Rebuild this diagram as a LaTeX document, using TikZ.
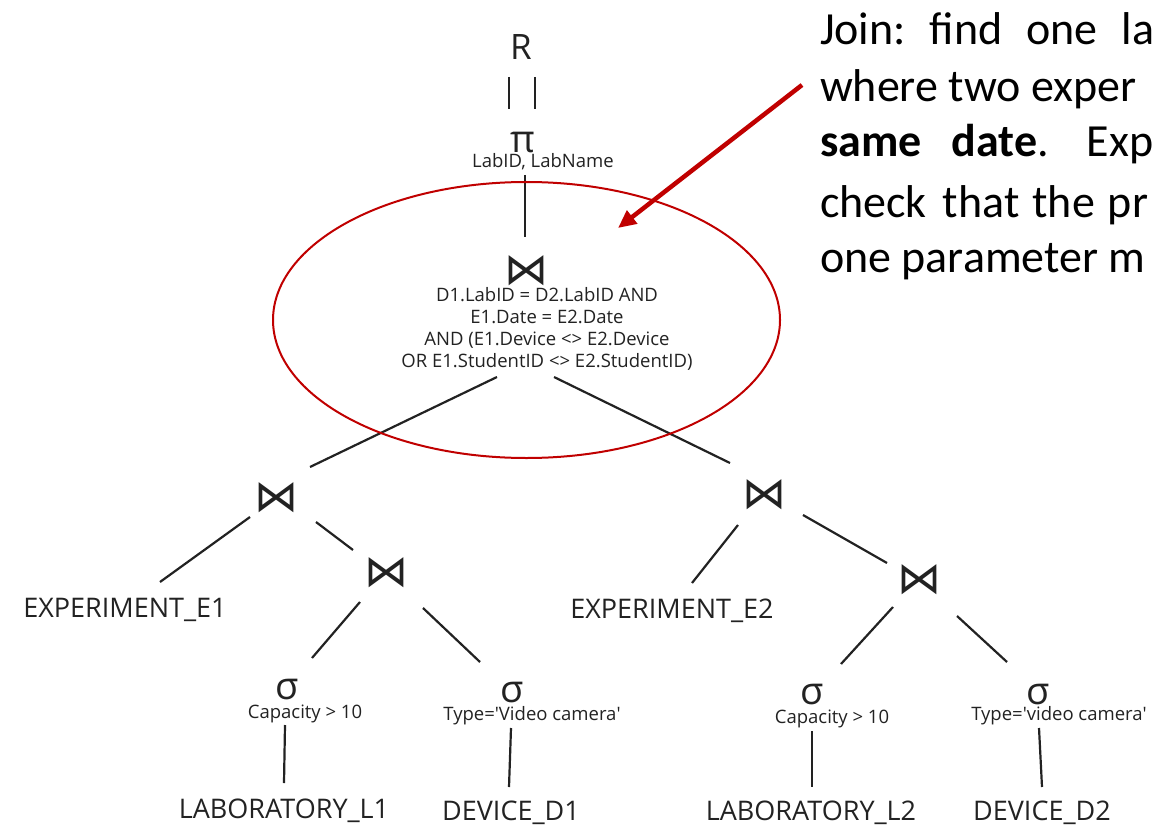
\documentclass[tikz,border=0pt]{standalone}
\usepackage{fontspec}
\setmainfont{Open Sans}
\newfontfamily\notefont{Carlito}
\newfontfamily\symfont{DejaVu Sans}
\usetikzlibrary{arrows.meta,shapes.geometric}
\definecolor{ink}{HTML}{222222}
\definecolor{hl}{HTML}{C00000}

\begin{document}
\begin{tikzpicture}[x=1pt,y=-1pt,
  every node/.style={inner sep=0pt, outer sep=0pt, text=ink},
  big/.style={font=\fontsize{27}{30}\selectfont, anchor=base},
  small/.style={font=\fontsize{18.5}{22}\selectfont, align=center, anchor=base},
  greek/.style={font=\fontsize{38}{38}\selectfont},
  joinop/.style={font=\symfont\fontsize{44}{44}\selectfont},
  link/.style={draw=ink, line width=2.2pt},
  note/.style={font=\notefont\fontsize{46}{56}\selectfont, text=black, anchor=base west},
  ring/.style={draw=hl, line width=2pt, ellipse},
]
\path[use as bounding box, clip] (0,0) rectangle (1153,829);

% ---- result and projection
\node[font=\fontsize{35}{35}\selectfont, anchor=base] (R) at (521,60) {R};
\node[greek] (pi) at (523,142.5) {π};
\node[small] (piarg) at (543,168) {LabID, LabName};

% ---- top join with its condition
\node[joinop] (j0) at (526,271) {⋈};
\node[small, anchor=north] (j0cond) at (547,287)
  {D1.LabID = D2.LabID AND\\E1.Date = E2.Date\\AND (E1.Device <> E2.Device\\OR E1.StudentID <> E2.StudentID)};

% ---- left branch
\node[joinop] (jl) at (276,498) {⋈};
\node[big] (e1) at (125,617) {EXPERIMENT\_E1};
\node[joinop] (jll) at (386,573) {⋈};
\node[greek] (sl1) at (287,690) {σ};
\node[small] (sl1arg) at (305,718) {Capacity > 10};
\node[big] (l1) at (284,818) {LABORATORY\_L1};
\node[greek] (sd1) at (512,693) {σ};
\node[small] (sd1arg) at (532,720) {Type=\textquotesingle Video camera\textquotesingle};
\node[big] (d1) at (511,820) {DEVICE\_D1};

% ---- right branch
\node[joinop] (jr) at (764,495) {⋈};
\node[big] (e2) at (672,618) {EXPERIMENT\_E2};
\node[joinop] (jrr) at (919,580) {⋈};
\node[greek] (sl2) at (812,695) {σ};
\node[small] (sl2arg) at (832,723) {Capacity > 10};
\node[big] (l2) at (811,820) {LABORATORY\_L2};
\node[greek] (sd2) at (1038,695) {σ};
\node[small] (sd2arg) at (1059,720) {Type=\textquotesingle video camera\textquotesingle};
\node[big] (d2) at (1042,820) {DEVICE\_D2};

% ---- connector end points
\coordinate (rA1) at (509,77);  \coordinate (rA2) at (509,109);
\coordinate (rB1) at (535,77);  \coordinate (rB2) at (535,109);
\coordinate (pi1) at (525,175); \coordinate (pi2) at (525,237);
\coordinate (jl1) at (497,377); \coordinate (jl2) at (310,467);
\coordinate (jr1) at (554,377); \coordinate (jr2) at (730,463);
\coordinate (e11) at (250,517); \coordinate (e12) at (160,582);
\coordinate (jll1) at (316,522); \coordinate (jll2) at (353,550);
\coordinate (sl11) at (360,602); \coordinate (sl12) at (312,658);
\coordinate (sd11) at (423,608); \coordinate (sd12) at (480,662);
\coordinate (l11) at (285,725); \coordinate (l12) at (284,783);
\coordinate (d11) at (511,728); \coordinate (d12) at (509,787);
\coordinate (e21) at (738,525); \coordinate (e22) at (692,583);
\coordinate (jrr1) at (803,515); \coordinate (jrr2) at (887,563);
\coordinate (sl21) at (893,607); \coordinate (sl22) at (841,664);
\coordinate (sd21) at (957,616); \coordinate (sd22) at (1007,662);
\coordinate (l21) at (812,731); \coordinate (l22) at (812,787);
\coordinate (d21) at (1039,728); \coordinate (d22) at (1042,787);

% ---- tree connectors
\draw[link] (rA1) -- (rA2);
\draw[link] (rB1) -- (rB2);
\draw[link] (pi1) -- (pi2);
\draw[link] (jl1) -- (jl2);
\draw[link] (jr1) -- (jr2);
\draw[link] (e11) -- (e12);
\draw[link] (jll1) -- (jll2);
\draw[link] (sl11) -- (sl12);
\draw[link] (sd11) -- (sd12);
\draw[link] (l11) -- (l12);
\draw[link] (d11) -- (d12);
\draw[link] (e21) -- (e22);
\draw[link] (jrr1) -- (jrr2);
\draw[link] (sl21) -- (sl22);
\draw[link] (sd21) -- (sd22);
\draw[link] (l21) -- (l22);
\draw[link] (d21) -- (d22);

% ---- highlight of the top join
\node[ring, minimum width=507pt, minimum height=276pt] (focus) at (526.5,320) {};

% ---- note text
\node[note] (n1) at (820,45) {Join:\hspace{24pt}find\hspace{24pt}one\hspace{24pt}la};
\node[note] (n2) at (820,102) {where two exper};
\node[note] (n3) at (820,157) {\textbf{same}\hspace{30pt}\textbf{date}.\hspace{38pt}Exp};
\node[note] (n4) at (820,217) {check\hspace{16pt}that\hspace{13pt}the\hspace{13pt}pr};
\node[note] (n5) at (820,272) {one parameter m};

% ---- pointer from note to the join condition
\coordinate (ptail) at (802,85);
\coordinate (phead) at (618,228);
\draw[draw=hl, line width=4.5pt, -{Triangle[length=18pt,width=16pt]}] (ptail) -- (phead);
\end{tikzpicture}
\end{document}
